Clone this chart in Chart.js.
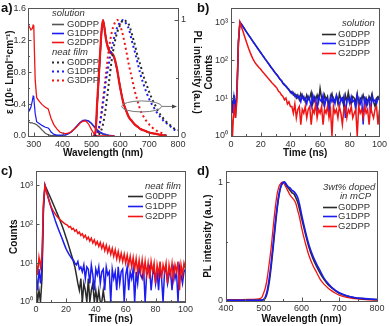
<!DOCTYPE html>
<html lang="en">
<head>
<meta charset="UTF-8">
<title>DPP absorption, PL and decay</title>
<script src="https://cdn.jsdelivr.net/npm/chart.js"></script>
<style>
body { margin: 0; background: #fff; width: 390px; height: 326px; position: relative; overflow: hidden; font-family: "Liberation Sans", Arial, sans-serif; }
canvas { position: absolute; }
#ca { left: 0; top: 0; }
#cb { left: 195px; top: 0; }
#cc { left: 0; top: 163px; }
#cd { left: 195px; top: 163px; }
.tag { position: absolute; font-weight: bold; font-size: 13px; color: #111; line-height: 13px; }
</style>
</head>
<body>
<canvas id="cb" width="195" height="163"></canvas>
<canvas id="ca" width="203" height="163"></canvas>
<canvas id="cc" width="195" height="163"></canvas>
<canvas id="cd" width="195" height="163"></canvas>
<div class="tag" style="left:1px;top:1px">a)</div>
<div class="tag" style="left:197px;top:1px">b)</div>
<div class="tag" style="left:1px;top:164px">c)</div>
<div class="tag" style="left:197px;top:164px">d)</div>

<script>
// ---- panel a: absorption (left axis) ----
const absWl = [280, 285, 290, 295, 298, 300, 302, 305, 310, 320, 330, 340, 350, 355, 360, 370, 380, 390, 400, 410, 420, 430, 440, 450, 460, 470, 480, 490, 500, 505, 510, 520, 530, 540, 550, 560, 570, 580];
const absG0 = [0.18, 0.17, 0.165, 0.165, 0.16, 0.16, 0.155, 0.15, 0.14, 0.11, 0.07, 0.035, 0.015, 0.01, 0.005, 0.005, 0.005, 0.005, 0.008, 0.012, 0.03, 0.05, 0.085, 0.125, 0.165, 0.19, 0.195, 0.185, 0.155, 0.13, 0.11, 0.07, 0.04, 0.02, 0.01, 0.005, 0, 0];
const absG1 = [0.36, 0.32, 0.36, 0.44, 0.5, 0.49, 0.4, 0.28, 0.18, 0.155, 0.13, 0.11, 0.1, 0.08, 0.05, 0.02, 0.01, 0.01, 0.01, 0.015, 0.03, 0.05, 0.09, 0.13, 0.17, 0.195, 0.2, 0.19, 0.16, 0.14, 0.12, 0.08, 0.05, 0.03, 0.02, 0.01, 0.005, 0];
const absG2 = [1.4, 1.37, 1.33, 1.35, 1.39, 1.38, 1.1, 0.7, 0.48, 0.43, 0.39, 0.36, 0.34, 0.28, 0.22, 0.14, 0.09, 0.05, 0.035, 0.03, 0.035, 0.055, 0.085, 0.12, 0.16, 0.185, 0.19, 0.15, 0.08, 0.05, 0.02, 0, 0, 0, 0, 0, 0, 0];

// ---- panel a: PL (right axis) ----
const plSolWl = [505, 510, 515, 520, 525, 530, 535, 540, 545, 550, 555, 560, 565, 570, 575, 580, 585, 590, 595, 600, 610, 620, 630, 640, 650, 660, 670, 680, 690, 700, 720, 740, 760];
const plSolG0 = [0, 0.005, 0.05, 0.27, 0.48, 0.69, 0.89, 0.99, 0.94, 0.85, 0.79, 0.75, 0.73, 0.72, 0.7, 0.67, 0.62, 0.56, 0.49, 0.42, 0.3, 0.22, 0.165, 0.13, 0.1, 0.08, 0.06, 0.05, 0.04, 0.03, 0.02, 0.01, 0];
const plSolG1 = [0, 0.005, 0.05, 0.28, 0.49, 0.7, 0.9, 1.0, 0.93, 0.84, 0.78, 0.74, 0.72, 0.71, 0.69, 0.66, 0.61, 0.55, 0.48, 0.41, 0.29, 0.22, 0.16, 0.125, 0.1, 0.08, 0.06, 0.05, 0.04, 0.03, 0.02, 0.01, 0];
const plSolG2 = [0, 0.005, 0.06, 0.3, 0.5, 0.71, 0.91, 1.0, 0.93, 0.84, 0.78, 0.74, 0.72, 0.71, 0.7, 0.67, 0.62, 0.56, 0.48, 0.41, 0.29, 0.22, 0.16, 0.13, 0.1, 0.08, 0.06, 0.05, 0.04, 0.03, 0.02, 0.01, 0];
const plFilmWl = [510, 520, 530, 540, 550, 560, 570, 580, 590, 600, 610, 620, 630, 640, 650, 660, 670, 680, 690, 700, 710, 720, 730, 740, 750, 760, 770, 780, 790, 800];
const plFilmG0 = [0, 0, 0.03, 0.1, 0.25, 0.45, 0.65, 0.8, 0.9, 0.96, 1.0, 0.99, 0.96, 0.88, 0.79, 0.69, 0.61, 0.52, 0.45, 0.38, 0.32, 0.27, 0.22, 0.18, 0.15, 0.12, 0.1, 0.08, 0.06, 0.05];
const plFilmG1 = [0, 0.02, 0.12, 0.28, 0.47, 0.62, 0.76, 0.86, 0.94, 0.98, 1.0, 0.97, 0.92, 0.82, 0.73, 0.63, 0.53, 0.45, 0.38, 0.32, 0.27, 0.23, 0.19, 0.16, 0.13, 0.11, 0.09, 0.07, 0.05, 0.04];
const plFilmG3 = [0, 0.01, 0.12, 0.31, 0.53, 0.74, 0.89, 0.97, 1.0, 0.95, 0.86, 0.74, 0.61, 0.5, 0.39, 0.3, 0.22, 0.17, 0.13, 0.1, 0.075, 0.055, 0.04, 0.03, 0.015, 0.005, null, null, null, null];
const aXTicks = [300, 400, 500, 600, 700, 800];
const aYTicks = [0, 0.4, 0.8, 1.2, 1.6];
const aY2Ticks = [0, 1];

// ---- panels b and c: decays (counts per ns) ----
const decayT = [0,1,2,3,4,5,6,7,8,9,10,11,12,13,14,15,16,17,18,19,20,21,22,23,24,25,26,27,28,29,30,31,32,33,34,35,36,37,38,39,40,41,42,43,44,45,46,47,48,49,50,51,52,53,54,55,56,57,58,59,60,61,62,63,64,65,66,67,68,69,70,71,72,73,74,75,76,77,78,79,80,81,82,83,84,85,86,87,88,89,90,91,92,93,94,95,96,97,98,99,100];
const solG0 = [10,6,12,3, 15, 280, 990, 890,780,680,590, 515,450,395,345,303,266,233,205,180,158, 139,122,108,95,84,74,65,58,51,45, 41,36,31,29,24,22,21,18,17,14, 15,12,13,10,12,9,13,10,11,8, 12,9,10,14,7,11,9,12,8,18, 10,7,12,9,11,6,10,13,8,9, 11,7,13,9,10,6,12,8,14,9, 7,11,10,8,13,6,10,9,12,8, 10,7,11,9,13,8,6,10,11,9];
const solG1 = [9,4,11,6, 14, 300, 1000, 880,770,670,580, 505,445,390,340,300,262,230,202,178,156, 137,121,106,94,83,73,64,57,50,45, 40,35,32,28,25,23,20,19,16,15, 13,14,11,12,10,11,8,12,9,10, 7,11,9,6,12,8,10,5,11,9, 8,12,6,10,9,4,11,8,10,7, 12,9,6,10,8,11,3,9,10,7, 11,8,9,5,12,9,7,10,2,11, 6,9,10,4,11,8,9,7,10,9];
const solG2 = [5,1,7,3, 9, 320, 1000, 760,580,440,335, 255,195,155,125,102,88,78,70,63,57, 51,46,41,37,33,30,27,24,22,20, 18,15,14,12,11,9,10,7,8,6, 6,4,7,3,5,6,2,5,4,6, 3,5,6,2,5,4,7,3,5,4, 6,2,5,4,6,3,5,1,6,4, 5,3,6,4,2,5,6,3,5,4, 6,3,4,5,1,6,4,5,3,6, 4,5,2,6,4,3,5,6,2,5];
const filmG0 = [3,1,2,1, 4, 250, 1000, 830,680,560,455, 370,300,243,197,160,128,102,80,62,47, 36,27,20,15,11,8,5,3,2,4, 1,3,2,1,4,1,2,3,1,2, 1,2,1,1,2,1,1,1,1,1, 1,1,1,1,1,1,1,1,1,1, 1,1,1,1,1,1,1,1,1,1, 1,1,1,1,1,1,1,1,1,1, 1,1,1,1,1,1,1,1,1,1, 1,1,1,1,1,1,1,1,1,1];
const filmG1 = [5,2,7,3, 8, 300, 1000, 720,520,380,280, 210,160,122,95,75,60,48,38,30,24, 20,17,15,13,12,10,9,11,7,8, 6,9,4,8,7,3,9,5,2,7, 5,8,3,6,7,2,8,5,6,1, 7,4,6,2,8,3,6,7,1,5, 8,2,6,4,7,1,6,3,8,5, 4,7,1,5,6,8,2,5,7,3, 6,2,8,4,1,6,7,3,5,6, 2,7,4,6,1,8,5,3,6,7];
const filmG2 = [12,5,14,8, 16, 350, 1000, 700,500,370,290, 240,205,180,160,145,133,123,114,106,99, 95,84,88,74,79,66,72,58,63,52, 57,46,52,41,47,37,44,33,40,30, 36,27,34,24,31,21,29,19,26,17, 24,15,22,13,20,12,18,11,17,10, 16,9,15,8,14,7,13,6,12,6, 12,5,11,5,10,4,11,6,10,3, 9,5,11,4,9,6,10,3,9,5, 10,4,9,6,11,2,9,5,10,7];
const decayXTicks = [0, 20, 40, 60, 80, 100];
const decayYTicks = [1, 10, 100, 1000];

// ---- panel d: PL in mCP ----
const dWl = [400, 420, 440, 460, 480, 490, 495, 500, 505, 510, 515, 520, 525, 530, 535, 540, 545, 550, 555, 560, 565, 570, 575, 580, 585, 590, 595, 600, 610, 620, 630, 640, 650, 660, 670, 680, 690, 700, 720, 740, 760, 780, 800];
const dG0 = [0.004, 0.004, 0.004, 0.005, 0.006, 0.007, 0.008, 0.01, 0.03, 0.08, 0.17, 0.3, 0.45, 0.61, 0.76, 0.88, 0.96, 0.99, 1.0, 0.97, 0.95, 0.93, 0.91, 0.9, 0.87, 0.83, 0.77, 0.7, 0.57, 0.45, 0.36, 0.29, 0.23, 0.18, 0.14, 0.11, 0.085, 0.065, 0.042, 0.028, 0.02, 0.015, 0.012];
const dG1 = [0.006, 0.006, 0.006, 0.006, 0.006, 0.006, 0.008, 0.015, 0.04, 0.1, 0.2, 0.33, 0.48, 0.64, 0.78, 0.89, 0.96, 0.995, 1.0, 0.98, 0.96, 0.95, 0.93, 0.92, 0.9, 0.87, 0.81, 0.73, 0.59, 0.47, 0.38, 0.31, 0.25, 0.19, 0.15, 0.115, 0.09, 0.07, 0.045, 0.03, 0.022, 0.017, 0.013];
const dG2 = [0.012, 0.012, 0.012, 0.013, 0.015, 0.02, 0.03, 0.07, 0.12, 0.21, 0.33, 0.46, 0.62, 0.77, 0.89, 0.96, 0.99, 1.0, 0.98, 0.95, 0.92, 0.89, 0.87, 0.85, 0.82, 0.76, 0.7, 0.62, 0.49, 0.38, 0.3, 0.24, 0.18, 0.14, 0.11, 0.085, 0.065, 0.05, 0.03, 0.02, 0.014, 0.01, 0.008];
const dXTicks = [400, 500, 600, 700, 800];
const dYTicks = [0, 1];

const FONT = '"Liberation Sans", Arial, sans-serif';
const BLK = '#2a2a2a', BLU = '#1c1cf0', RED = '#f01414';
const sup = ['⁰', '¹', '²', '³'];

function pts(xs, ys) {
    return ys.map((y, i) => ({ x: xs[i], y: y })).filter(p => p.y !== null);
}

function axis(o) {
    return {
        type: o.type || 'linear', position: o.pos, min: o.min, max: o.max,
        grid: { display: false, drawTicks: false }, border: { display: false },
        afterBuildTicks: s => { s.ticks = o.ticks.map(v => ({ value: v })); },
        afterFit: s => { if (o.pos === 'bottom') s.height = o.size; else s.width = o.size; },
        ticks: { padding: o.pad, color: '#333', autoSkip: false, maxRotation: 0,
                 font: { size: 9, family: FONT }, callback: o.fmt || (v => v) },
        title: { display: true, text: o.title, color: '#111', padding: o.tpad,
                 font: { size: 10, weight: 'bold', family: FONT } }
    };
}

// box round the plot and short inward tick marks
const frame = {
    id: 'frame',
    afterDraw(chart, args, opts) {
        const { ctx, chartArea: a } = chart;
        ctx.save();
        ctx.strokeStyle = '#555';
        ctx.lineWidth = 1;
        ctx.strokeRect(Math.round(a.left) + 0.5, Math.round(a.top) + 0.5, Math.round(a.right - a.left), Math.round(a.bottom - a.top));
        const minor = opts.minor || {};
        for (const id in chart.scales) {
            const s = chart.scales[id];
            const mark = (v, len) => {
                const p = Math.round(s.getPixelForValue(v)) + 0.5;
                ctx.beginPath();
                if (s.isHorizontal()) { ctx.moveTo(p, a.bottom); ctx.lineTo(p, a.bottom - len); }
                else if (s.position === 'right') { ctx.moveTo(a.right, p); ctx.lineTo(a.right - len, p); }
                else { ctx.moveTo(a.left, p); ctx.lineTo(a.left + len, p); }
                ctx.stroke();
            };
            s.ticks.forEach(t => mark(t.value, 3.5));
            (minor[id] || []).forEach(v => mark(v, 2));
        }
        ctx.restore();
    }
};

// legend drawn inside the plot
const inLegend = {
    id: 'inLegend',
    afterDraw(chart, args, o) {
        const ctx = chart.ctx;
        ctx.save();
        ctx.textBaseline = 'middle';
        o.rows.forEach(r => {
            if (r.head) {
                ctx.font = 'italic 9.5px ' + FONT;
                ctx.fillStyle = '#333';
                ctx.fillText(r.head, r.x, r.y);
                return;
            }
            const ds = chart.data.datasets[r.ds];
            ctx.strokeStyle = ds.borderColor;
            ctx.lineWidth = ds.borderDash ? 2 : 1.6;
            ctx.setLineDash(ds.borderDash ? [2, 3] : []);
            ctx.beginPath();
            ctx.moveTo(o.x0, r.y + 0.5);
            ctx.lineTo(o.x1, r.y + 0.5);
            ctx.stroke();
            ctx.font = '9.5px ' + FONT;
            ctx.fillStyle = '#333';
            ctx.fillText(ds.label, o.tx, r.y + 0.5);
        });
        ctx.restore();
    }
};

// ellipse with arrow pointing to the PL axis
const ellipseArrow = {
    id: 'ellipseArrow',
    afterDatasetsDraw(chart) {
        const { ctx, chartArea: a } = chart;
        const cx = chart.scales.x.getPixelForValue(674);
        const cy = chart.scales.y2.getPixelForValue(0.255);
        ctx.save();
        ctx.strokeStyle = '#777';
        ctx.lineWidth = 1;
        ctx.beginPath();
        ctx.ellipse(cx, cy, 20, 5.5, 0, 0, 2 * Math.PI);
        ctx.stroke();
        ctx.beginPath();
        ctx.moveTo(cx + 20, cy);
        ctx.lineTo(a.right - 4, cy);
        ctx.stroke();
        ctx.fillStyle = '#444';
        ctx.beginPath();
        ctx.moveTo(a.right - 1, cy);
        ctx.lineTo(a.right - 6, cy - 2);
        ctx.lineTo(a.right - 6, cy + 2);
        ctx.fill();
        ctx.restore();
    }
};

function line(label, data, color, w, extra) {
    return Object.assign({ label: label, data: data, borderColor: color, borderWidth: w,
                           pointRadius: 0, fill: false, tension: 0 }, extra || {});
}

const base = {
    responsive: false, animation: false,
    plugins: { legend: { display: false }, tooltip: { enabled: false } }
};

// ---- a) ----
new Chart(document.getElementById('ca'), {
    type: 'line',
    data: { datasets: [
        line('G0DPP', pts(absWl, absG0), '#555', 1.2, { yAxisID: 'y', order: 6 }),
        line('G1DPP', pts(absWl, absG1), BLU, 1.2, { yAxisID: 'y', order: 5 }),
        line('G2DPP', pts(absWl, absG2), RED, 1.3, { yAxisID: 'y', order: 4 }),
        line('G0DPP', pts(plSolWl, plSolG0), BLK, 1.4, { yAxisID: 'y2', order: 3, cubicInterpolationMode: 'monotone' }),
        line('G1DPP', pts(plSolWl, plSolG1), BLU, 1.4, { yAxisID: 'y2', order: 2, cubicInterpolationMode: 'monotone' }),
        line('G2DPP', pts(plSolWl, plSolG2), RED, 2.2, { yAxisID: 'y2', order: 1, cubicInterpolationMode: 'monotone' }),
        line('G0DPP', pts(plFilmWl, plFilmG0), BLK, 2, { yAxisID: 'y2', order: 0, borderDash: [2, 3], cubicInterpolationMode: 'monotone' }),
        line('G1DPP', pts(plFilmWl, plFilmG1), BLU, 2, { yAxisID: 'y2', order: 0, borderDash: [2, 3], cubicInterpolationMode: 'monotone' }),
        line('G3DPP', pts(plFilmWl, plFilmG3), RED, 2, { yAxisID: 'y2', order: 0, borderDash: [2, 3], cubicInterpolationMode: 'monotone' })
    ] },
    options: Object.assign({}, base, {
        layout: { padding: { top: 5, right: 0, left: 0, bottom: 0 } },
        scales: {
            x: axis({ pos: 'bottom', min: 280, max: 800, ticks: aXTicks, size: 27, pad: 3, title: 'Wavelength (nm)', tpad: 4 }),
            y: axis({ pos: 'left', min: 0, max: 1.6, ticks: aYTicks, size: 28, pad: 2, fmt: v => v.toFixed(1),
                      title: 'ε (10⁵ Lmol⁻¹cm⁻¹)', tpad: 4 }),
            y2: axis({ pos: 'right', min: 0, max: 1.1, ticks: aY2Ticks, size: 25, pad: 3, title: 'PL intensity (a.u.)', tpad: 0 })
        },
        plugins: Object.assign({}, base.plugins, {
            frame: { minor: { x: [350, 450, 550, 650, 750], y: [0.2, 0.6, 1.0, 1.4], y2: [0.5] } },
            inLegend: { x0: 52, x1: 64, tx: 67, rows: [
                { head: 'solution', x: 52, y: 13 }, { ds: 0, y: 24 }, { ds: 1, y: 33 }, { ds: 2, y: 42 },
                { head: 'neat film', x: 52, y: 52 }, { ds: 6, y: 62 }, { ds: 7, y: 71 }, { ds: 8, y: 80 }
            ] }
        })
    }),
    plugins: [frame, inLegend, ellipseArrow]
});

// decay panels b) and c)
function decayChart(id, g0, g1, g2, pad, legendRows, lx) {
    new Chart(document.getElementById(id), {
        type: 'line',
        data: { datasets: [
            line('G0DPP', pts(decayT, g0), BLK, 1.5, { order: 3 }),
            line('G1DPP', pts(decayT, g1), BLU, 1.5, { order: 2 }),
            line('G2DPP', pts(decayT, g2), RED, 1.5, { order: 1 })
        ] },
        options: Object.assign({}, base, {
            layout: { padding: { top: pad.top, right: pad.right, left: 0, bottom: 0 } },
            scales: {
                x: axis({ type: 'linear', pos: 'bottom', min: 0, max: 100, ticks: decayXTicks, size: pad.xh, pad: pad.xp, title: 'Time (ns)', tpad: pad.tb }),
                y: axis({ type: 'logarithmic', pos: 'left', min: 1, max: 2300, ticks: decayYTicks, size: 36, pad: 3,
                          fmt: v => '10' + sup[Math.round(Math.log10(v))], title: 'Counts', tpad: 8 })
            },
            plugins: Object.assign({}, base.plugins, {
                frame: { minor: { x: [10, 30, 50, 70, 90] } },
                inLegend: { x0: lx[0], x1: lx[1], tx: lx[2], rows: legendRows }
            })
        }),
        plugins: [frame, inLegend]
    });
}

decayChart('cb', solG0, solG1, solG2, { top: 5, right: 7, xh: 27, xp: 3, tb: 4 },
    [{ head: 'solution', x: 147, y: 23 }, { ds: 0, y: 34 }, { ds: 1, y: 43 }, { ds: 2, y: 53 }], [127, 141, 143]);
decayChart('cc', filmG0, filmG1, filmG2, { top: 6, right: 6.5, xh: 24, xp: 2, tb: 1 },
    [{ head: 'neat film', x: 145, y: 23 }, { ds: 0, y: 33 }, { ds: 1, y: 43 }, { ds: 2, y: 53 }], [128, 143, 145]);

// ---- d) ----
new Chart(document.getElementById('cd'), {
    type: 'line',
    data: { datasets: [
        line('G0DPP', pts(dWl, dG0), BLK, 1.6, { order: 2, cubicInterpolationMode: 'monotone' }),
        line('G1DPP', pts(dWl, dG1), BLU, 1.6, { order: 1, cubicInterpolationMode: 'monotone' }),
        line('G2DPP', pts(dWl, dG2), RED, 1.3, { order: 3, cubicInterpolationMode: 'monotone' })
    ] },
    options: Object.assign({}, base, {
        layout: { padding: { top: 5, right: 13, left: 0, bottom: 0 } },
        scales: {
            x: axis({ pos: 'bottom', min: 400, max: 800, ticks: dXTicks, size: 25, pad: 2, title: 'Wavelength (nm)', tpad: 1 }),
            y: axis({ pos: 'left', min: 0, max: 1.09, ticks: dYTicks, size: 31, pad: 3, title: 'PL intensity (a.u.)', tpad: 7 })
        },
        plugins: Object.assign({}, base.plugins, {
            frame: { minor: { x: [450, 550, 650, 750], y: [0.5] } },
            inLegend: { x0: 128, x1: 142, tx: 143, rows: [
                { head: '3wt% doped', x: 128, y: 24 }, { head: 'in mCP', x: 145, y: 33 },
                { ds: 0, y: 44 }, { ds: 1, y: 53 }, { ds: 2, y: 63 }
            ] }
        })
    }),
    plugins: [frame, inLegend]
});
</script>
</body>
</html>
